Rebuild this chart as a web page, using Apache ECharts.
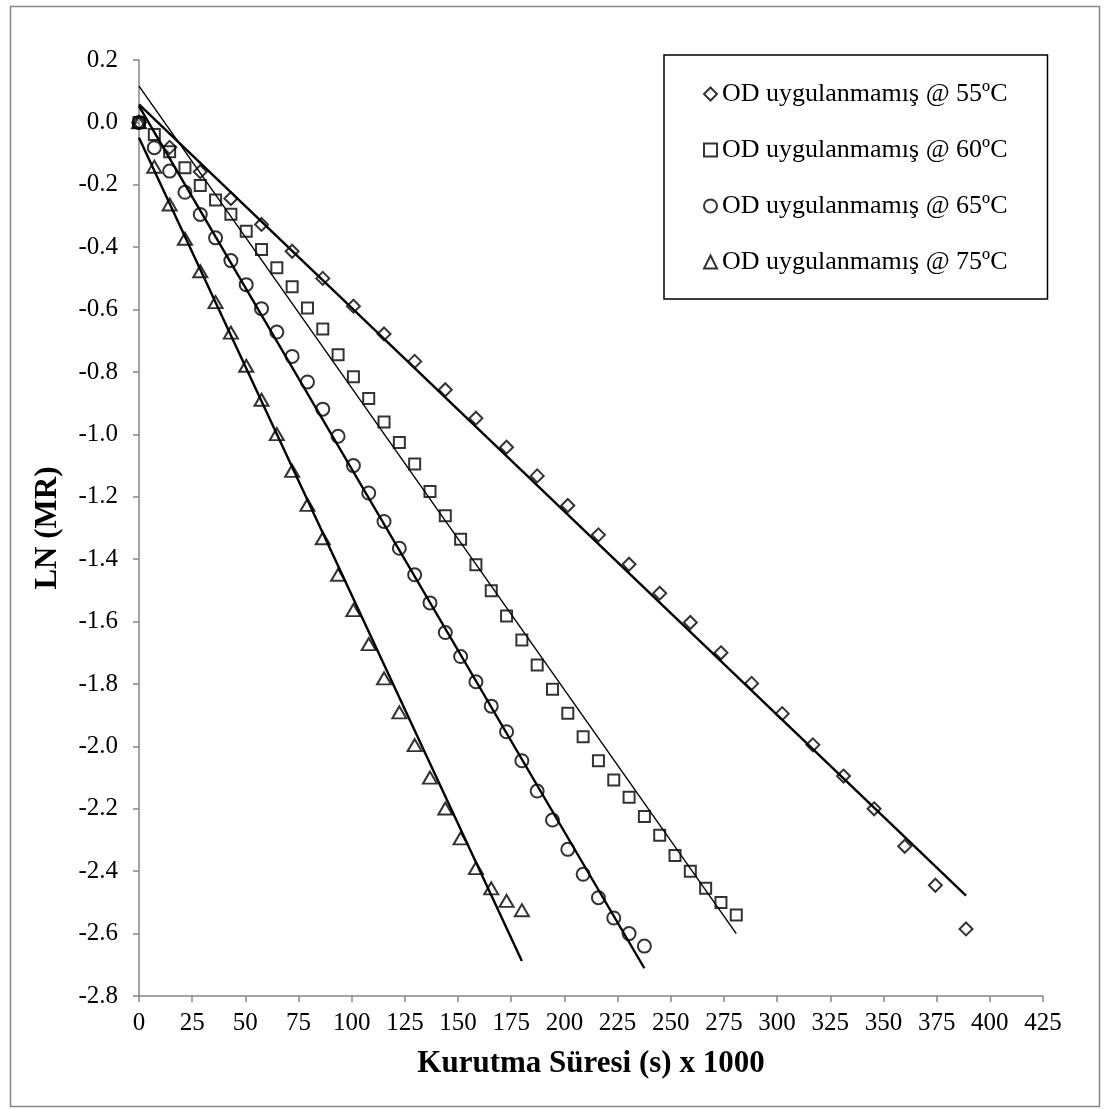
<!DOCTYPE html>
<html>
<head>
<meta charset="utf-8">
<script src="https://cdn.jsdelivr.net/npm/echarts@6/dist/echarts.min.js"></script>
<style>
html,body{margin:0;padding:0;background:#fff;}
#chart{width:1105px;height:1109px;}
</style>
</head>
<body>
<div id="chart"></div>
<script>
// ---- data ----
const seriesNames = ['OD uygulanmamış @ 55ºC','OD uygulanmamış @ 60ºC','OD uygulanmamış @ 65ºC','OD uygulanmamış @ 75ºC'];

const t55 = [0,14.4,28.8,43.2,57.6,72,86.4,100.8,115.2,129.6,144,158.4,172.8,187.2,201.6,216,230.4,244.8,259.2,273.6,288,302.4,316.8,331.2,345.6,360,374.4,388.8];
const y55 = [0,-0.08,-0.158,-0.244,-0.327,-0.413,-0.50,-0.589,-0.678,-0.766,-0.857,-0.948,-1.041,-1.133,-1.228,-1.322,-1.416,-1.509,-1.603,-1.70,-1.798,-1.895,-1.995,-2.095,-2.20,-2.32,-2.445,-2.585];

const t60 = [0,7.2,14.4,21.6,28.8,36,43.2,50.4,57.6,64.8,72,79.2,86.4,93.6,100.8,108,115.2,122.4,129.6,136.8,144,151.2,158.4,165.6,172.8,180,187.2,194.4,201.6,208.8,216,223.2,230.4,237.6,244.8,252,259.2,266.4,273.6,280.8];
const y60 = [0,-0.039,-0.094,-0.145,-0.202,-0.249,-0.294,-0.349,-0.407,-0.466,-0.527,-0.595,-0.662,-0.745,-0.815,-0.885,-0.96,-1.026,-1.095,-1.183,-1.261,-1.336,-1.418,-1.501,-1.582,-1.659,-1.739,-1.817,-1.894,-1.969,-2.046,-2.108,-2.163,-2.225,-2.285,-2.35,-2.40,-2.455,-2.50,-2.54];

const t65 = [0,7.2,14.4,21.6,28.8,36,43.2,50.4,57.6,64.8,72,79.2,86.4,93.6,100.8,108,115.2,122.4,129.6,136.8,144,151.2,158.4,165.6,172.8,180,187.2,194.4,201.6,208.8,216,223.2,230.4,237.6];
const y65 = [0,-0.081,-0.156,-0.224,-0.295,-0.37,-0.443,-0.52,-0.597,-0.672,-0.75,-0.832,-0.919,-1.006,-1.10,-1.188,-1.279,-1.365,-1.45,-1.54,-1.635,-1.712,-1.793,-1.871,-1.953,-2.046,-2.143,-2.236,-2.33,-2.41,-2.485,-2.55,-2.60,-2.64];

const t75 = [0,7.2,14.4,21.6,28.8,36,43.2,50.4,57.6,64.8,72,79.2,86.4,93.6,100.8,108,115.2,122.4,129.6,136.8,144,151.2,158.4,165.6,172.8,180];
const y75 = [0,-0.142,-0.263,-0.373,-0.477,-0.576,-0.674,-0.78,-0.889,-0.999,-1.117,-1.226,-1.333,-1.45,-1.563,-1.672,-1.782,-1.891,-1.996,-2.10,-2.199,-2.295,-2.39,-2.455,-2.495,-2.525];

// linear trend lines: [x start, y start, x end, y end]
const fit55 = [0, 0.058, 388.8, -2.478];
const fit60 = [0, 0.116, 280.8, -2.60];
const fit65 = [0, 0.052, 237.6, -2.711];
const fit75 = [0, -0.049, 180, -2.688];

const xTicks = [0,25,50,75,100,125,150,175,200,225,250,275,300,325,350,375,400,425];
const yTicks = [0.2,0.0,-0.2,-0.4,-0.6,-0.8,-1.0,-1.2,-1.4,-1.6,-1.8,-2.0,-2.2,-2.4,-2.6,-2.8];

// ---- chart ----
const FONT = '"Liberation Serif", "Times New Roman", serif';
const AXIS = '#868686';
const pts = (t, y) => t.map((v, i) => [v, y[i]]);
const fitPts = f => [[f[0], f[1]], [f[2], f[3]]];
const hollow = {color: 'rgba(0,0,0,0)', borderColor: '#000', borderWidth: 2};

const symbols = ['diamond', 'rect', 'circle', 'triangle'];
const sizes = [[13,13],[11,11],[13,13],[14,12]];
const data = [pts(t55,y55), pts(t60,y60), pts(t65,y65), pts(t75,y75)];
const fits = [fit55, fit60, fit65, fit75];
const fitWidth = [2.4, 1.4, 2.4, 2.4];

const series = [];
fits.forEach((f, i) => {
  series.push({
    type: 'line', name: 'fit' + i, data: fitPts(f), symbol: 'none', silent: true,
    lineStyle: {color: '#000', width: fitWidth[i]}, z: 2, animation: false
  });
});
data.forEach((d, i) => {
  series.push({
    type: 'scatter', name: seriesNames[i], data: d, symbol: symbols[i], symbolSize: sizes[i],
    itemStyle: hollow, z: 3, animation: false
  });
});

const chart = echarts.init(document.getElementById('chart'), null, {renderer: 'canvas'});
chart.setOption({
  backgroundColor: '#fff',
  animation: false,
  grid: {left: 139, top: 60, right: 62, bottom: 113},
  xAxis: {
    type: 'value', min: xTicks[0], max: xTicks[xTicks.length - 1], interval: 25,
    name: 'Kurutma Süresi (s) x 1000', nameLocation: 'middle', nameGap: 52,
    nameTextStyle: {fontFamily: FONT, fontSize: 31, fontWeight: 'bold', color: '#000'},
    axisLine: {show: true, onZero: false, lineStyle: {color: AXIS, width: 1.5}},
    axisTick: {show: true, length: 6, lineStyle: {color: AXIS, width: 1.5}},
    axisLabel: {fontFamily: FONT, fontSize: 25, color: '#000', margin: 15},
    splitLine: {show: false}
  },
  yAxis: {
    type: 'value', min: yTicks[yTicks.length - 1], max: yTicks[0], interval: 0.2,
    name: 'LN (MR)', nameLocation: 'middle', nameGap: 76,
    nameTextStyle: {fontFamily: FONT, fontSize: 31, fontWeight: 'bold', color: '#000'},
    axisLine: {show: true, onZero: false, lineStyle: {color: AXIS, width: 1.5}},
    axisTick: {show: true, length: 6, lineStyle: {color: AXIS, width: 1.5}},
    axisLabel: {fontFamily: FONT, fontSize: 25, color: '#000', margin: 21,
      formatter: v => v.toFixed(1)},
    splitLine: {show: false}
  },
  legend: {
    orient: 'vertical', left: 664, top: 55,
    padding: [24, 40, 22, 39], itemGap: 26,
    itemWidth: 13, itemHeight: 13,
    borderColor: '#000', borderWidth: 1.5, backgroundColor: '#fff',
    textStyle: {fontFamily: FONT, fontSize: 26, color: '#000', lineHeight: 30},
    data: seriesNames.map((n, i) => ({name: n, icon: symbols[i], itemStyle: hollow})),
    selectedMode: false
  },
  graphic: [{
    type: 'rect', left: 8, top: 4, silent: true,
    shape: {width: 1089, height: 1100},
    style: {fill: 'none', stroke: AXIS, lineWidth: 1.5}
  }],
  series: series
});
</script>
</body>
</html>
